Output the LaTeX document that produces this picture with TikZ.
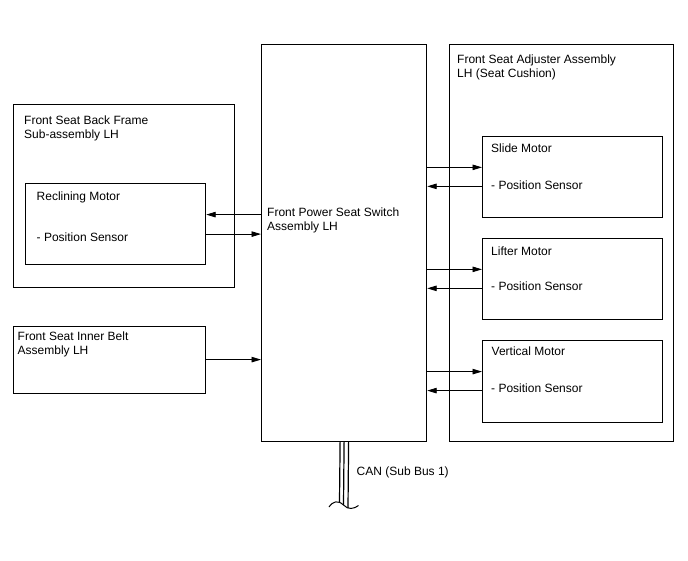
\documentclass[tikz,border=0pt]{standalone}
\usepackage{fontspec}
\setmainfont{Liberation Sans}
\usetikzlibrary{arrows.meta,positioning}

\begin{document}
\begin{tikzpicture}[x=1pt,y=-1pt,
      box/.style={draw,line width=1.2pt,anchor=north west,inner sep=0pt},
      txt/.style={anchor=north west,inner sep=0pt,align=left,
                  font=\fontsize{12}{14}\selectfont},
      ar/.style={-{Triangle[length=9.5pt,width=5.5pt]},line width=0.9pt},
      bus/.style={line width=1.2pt}
    ]
    \useasboundingbox (0,0) rectangle (688,560);

    \node[box,minimum width=165pt,minimum height=397pt] (sw) at (261,44) {};
    \node[box,minimum width=224pt,minimum height=397pt] (adj) at (449,44) {};
    \node[box,minimum width=221pt,minimum height=183pt] (back) at (13,104) {};
    \node[box,minimum width=180pt,minimum height=81pt] (rm) at (25,183) {};
    \node[box,minimum width=192pt,minimum height=67pt] (belt) at (13,325.5) {};
    \node[box,minimum width=180pt,minimum height=80.5pt] (slide) at (482,136) {};
    \node[box,minimum width=180pt,minimum height=81.5pt] (lifter) at (482,237.5) {};
    \node[box,minimum width=180pt,minimum height=82pt] (vert) at (482,339.5) {};

    \node[txt] (swtxt) at (267,208) {Front Power Seat Switch\\Assembly LH};
    \node[txt] (adjtxt) at (457,55) {Front Seat Adjuster Assembly\\LH (Seat Cushion)};
    \node[txt] (backtxt) at (24,116) {Front Seat Back Frame\\Sub-assembly LH};
    \node[txt] (rmtxt) at (36.5,191.5) {Reclining Motor};
    \node[txt] (rmsens) at (36.5,232.5) {- Position Sensor};
    \node[txt] (belttxt) at (17.5,331.5) {Front Seat Inner Belt\\Assembly LH};
    \node[txt] (slidetxt) at (491,144) {Slide Motor};
    \node[txt] (slidesens) at (491,180.5) {- Position Sensor};
    \node[txt] (liftertxt) at (491,247) {Lifter Motor};
    \node[txt] (liftersens) at (491,281.5) {- Position Sensor};
    \node[txt] (verttxt) at (491.5,346.5) {Vertical Motor};
    \node[txt] (vertsens) at (491,384) {- Position Sensor};
    \node[txt] (cantxt) at (356.5,466.5) {CAN (Sub Bus 1)};

    \coordinate (rm-in) at ([yshift=9.5pt]rm.east);
    \coordinate (rm-out) at ([yshift=-10pt]rm.east);
    \draw[ar] (sw.west |- rm-in) -- (rm-in);
    \draw[ar] (rm-out) -- (sw.west |- rm-out);
    \draw[ar] (belt.east) -- (sw.west |- belt.east);

    \foreach \m in {slide,lifter,vert}{
      \coordinate (\m-in) at ([yshift=9.5pt]\m.west);
      \coordinate (\m-out) at ([yshift=-9.5pt]\m.west);
      \draw[ar] (sw.east |- \m-in) -- (\m-in);
      \draw[ar] (\m-out) -- (sw.east |- \m-out);
    }

    \coordinate (can) at (343.5,505);
    \draw[bus] ([xshift=-4pt]sw.south) -- ([xshift=-4pt,yshift=3pt]can);
    \draw[bus] (sw.south) -- (can);
    \draw[bus] ([xshift=4.5pt]sw.south) -- ([xshift=4.5pt,yshift=-3pt]can);
    \draw[line width=1pt] (329,507) .. controls (333,501) and (338,500) .. (can)
      .. controls (348,510) and (354,509) .. (358.5,505.5);
  \end{tikzpicture}
\end{document}
